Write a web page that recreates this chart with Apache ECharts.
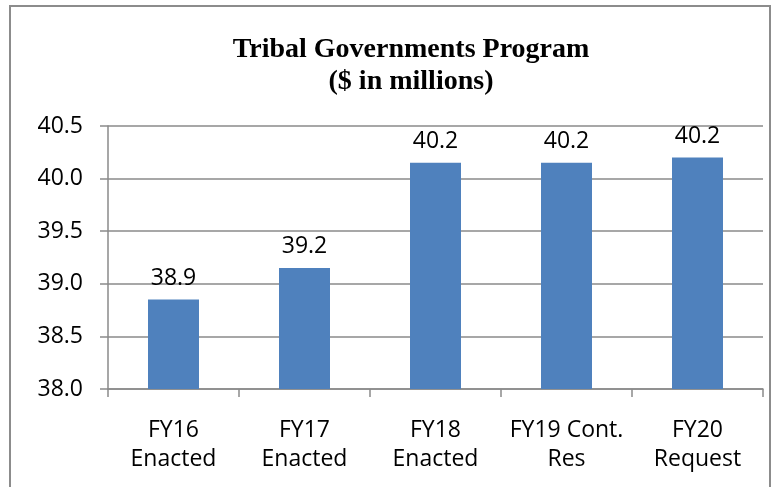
<!DOCTYPE html>
<html>
<head>
<meta charset="utf-8">
<script src="https://cdn.jsdelivr.net/npm/echarts@6/dist/echarts.min.js"></script>
<style>
html,body{margin:0;padding:0;background:#fff;}
#chart{width:777px;height:487px;}
</style>
</head>
<body>
<div id="chart"></div>
<script>
var categories = ['FY16\nEnacted', 'FY17\nEnacted', 'FY18\nEnacted', 'FY19 Cont.\nRes', 'FY20\nRequest'];
var values = [38.85, 39.15, 40.15, 40.15, 40.2];
var labels = ['38.9', '39.2', '40.2', '40.2', '40.2'];
var yTicks = ['38.0', '38.5', '39.0', '39.5', '40.0', '40.5'];

var chart = echarts.init(document.getElementById('chart'));
var sansFont = '"Open Sans", "Noto Sans", sans-serif';
chart.setOption({
  animation: false,
  backgroundColor: '#ffffff',
  title: {
    text: 'Tribal Governments Program\n($ in millions)',
    left: 411,
    top: 34,
    textAlign: 'center',
    padding: 0,
    textStyle: {
      fontFamily: '"Liberation Serif", "Times New Roman", serif',
      fontWeight: 'bold',
      fontSize: 28,
      lineHeight: 32,
      color: '#000'
    }
  },
  graphic: [{
    type: 'rect',
    shape: {x: 10, y: 6, width: 760, height: 500},
    style: {fill: 'none', stroke: '#8c8c8c', lineWidth: 2},
    silent: true
  }],
  grid: {left: 108, right: 14, top: 126, bottom: 98, containLabel: false},
  xAxis: {
    type: 'category',
    data: categories,
    axisLine: {lineStyle: {color: '#8a8a8a', width: 1.5}},
    axisTick: {show: true, length: 8, alignWithLabel: false, lineStyle: {color: '#8a8a8a', width: 1.5}},
    axisLabel: {
      color: '#000', fontFamily: sansFont, fontSize: 23, lineHeight: 29, margin: 27, interval: 0
    }
  },
  yAxis: {
    type: 'value',
    min: 38.0,
    max: 40.5,
    interval: 0.5,
    axisLine: {show: true, lineStyle: {color: '#8a8a8a', width: 1.5}},
    axisTick: {show: true, length: 8, lineStyle: {color: '#8a8a8a', width: 1.5}},
    splitLine: {show: true, lineStyle: {color: '#8a8a8a', width: 1.5}},
    axisLabel: {
      color: '#000', fontFamily: sansFont, fontSize: 23, margin: 25,
      formatter: function (v) {
        var idx = Math.round((v - 38.0) / 0.5);
        return yTicks[idx] !== undefined ? yTicks[idx] : v.toFixed(1);
      }
    }
  },
  series: [{
    type: 'bar',
    data: values,
    barWidth: 51,
    itemStyle: {color: '#4f81bd'},
    label: {
      show: true,
      position: 'top',
      distance: 10,
      color: '#000',
      fontFamily: sansFont,
      fontSize: 23,
      formatter: function (p) { return labels[p.dataIndex]; }
    }
  }]
});
</script>
</body>
</html>
